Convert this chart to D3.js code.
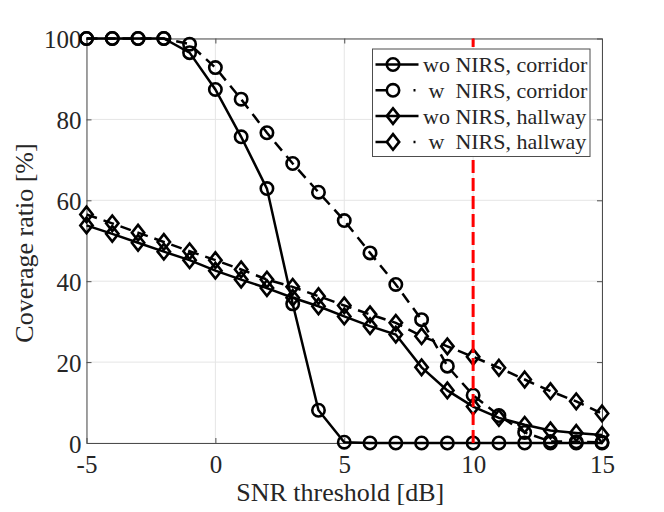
<!DOCTYPE html>
<html>
<head>
<meta charset="utf-8">
<script src="https://cdn.jsdelivr.net/npm/d3@7"></script>
<style>
  body { margin: 0; background: #fff; }
  text { font-family: "Liberation Serif", "Times New Roman", serif; fill: #262626; }
</style>
</head>
<body>
<div id="chart"></div>
<script>
// Data
var snr = [-5, -4, -3, -2, -1, 0, 1, 2, 3, 4, 5, 6, 7, 8, 9, 10, 11, 12, 13, 14, 15];
var woCorridor = [100, 100, 100, 100, 96.5, 87.4, 75.7, 62.9, 34.4, 8.1, 0.2, 0, 0, 0, 0, 0, 0, 0, 0, 0, 0];
var wCorridor = [100, 100, 100, 100, 98.6, 92.8, 85, 76.7, 69.1, 62, 55, 47, 39.2, 30.5, 19, 11.8, 6.8, 2.6, 0.4, 0.3, 0.2];
var woHallway = [53.8, 51.7, 49.5, 47.3, 45.2, 42.6, 40.4, 38.3, 35.9, 33.8, 31.3, 28.9, 26.8, 18.7, 13, 9, 6.2, 4.5, 3.1, 2.5, 2];
var wHallway = [56.5, 54.3, 52, 49.7, 47.4, 45.2, 42.9, 40.4, 38.6, 36.3, 34, 31.8, 29.7, 26.4, 23.9, 21.3, 18.6, 15.7, 12.8, 10.3, 7.3];
var xTicks = [-5, 0, 5, 10, 15];
var yTicks = [0, 20, 40, 60, 80, 100];
var thresholdX = 10;
var legendLabels = ["wo NIRS, corridor", " w  NIRS, corridor", "wo NIRS, hallway", " w  NIRS, hallway"];

var series = [
  { name: legendLabels[0], values: woCorridor, marker: "circle", dashed: false },
  { name: legendLabels[1], values: wCorridor, marker: "circle", dashed: true },
  { name: legendLabels[2], values: woHallway, marker: "diamond", dashed: false },
  { name: legendLabels[3], values: wHallway, marker: "diamond", dashed: true }
];

// Sizes and margins
var W = 664, H = 512;
var margin = { top: 38.5, right: 62, bottom: 69, left: 86.5 },
    width = W - margin.left - margin.right,
    height = H - margin.top - margin.bottom;

var svg = d3.select("#chart").append("svg")
    .attr("width", W)
    .attr("height", H)
    .append("g")
    .attr("transform", "translate(" + margin.left + "," + margin.top + ")");

var x = d3.scaleLinear().domain([-5, 15]).range([0, width]);
var y = d3.scaleLinear().domain([0, 100]).range([height, 0]);

// grid
svg.append("g").selectAll("line").data(xTicks).enter().append("line")
    .attr("x1", function (d) { return x(d); }).attr("x2", function (d) { return x(d); })
    .attr("y1", 0).attr("y2", height)
    .attr("stroke", "#e5e5e5").attr("stroke-width", 1);
svg.append("g").selectAll("line").data(yTicks).enter().append("line")
    .attr("y1", function (d) { return y(d); }).attr("y2", function (d) { return y(d); })
    .attr("x1", 0).attr("x2", width)
    .attr("stroke", "#e5e5e5").attr("stroke-width", 1);

// axes (ticks pointing inward, box on)
function styleAxis(g) {
  g.selectAll(".domain").attr("stroke", "#4d4d4d");
  g.selectAll(".tick line").attr("stroke", "#4d4d4d");
  g.selectAll("text").style("font-family", "Liberation Serif").style("font-size", "25px").attr("fill", "#262626");
}
var plain = function (d) { return String(d); };
svg.append("g")
    .attr("transform", "translate(0," + height + ")")
    .call(d3.axisBottom(x).tickValues(xTicks).tickFormat(plain).tickSize(-5).tickSizeOuter(0).tickPadding(12))
    .call(styleAxis);
svg.append("g")
    .call(d3.axisLeft(y).tickValues(yTicks).tickFormat(plain).tickSize(-5).tickSizeOuter(0).tickPadding(5))
    .call(styleAxis)
    .selectAll("text").attr("dy", "0.36em");
svg.append("g")
    .call(d3.axisTop(x).tickValues(xTicks).tickSize(-5).tickSizeOuter(0).tickFormat(""))
    .call(styleAxis);
svg.append("g")
    .attr("transform", "translate(" + width + ",0)")
    .call(d3.axisRight(y).tickValues(yTicks).tickSize(-5).tickSizeOuter(0).tickFormat(""))
    .call(styleAxis);

// lines and markers
var line = d3.line()
    .x(function (d, i) { return x(snr[i]); })
    .y(function (d) { return y(d); });

function drawMarker(g, type, cx, cy) {
  if (type === "circle") {
    g.append("circle").attr("cx", cx).attr("cy", cy).attr("r", 6.2)
        .attr("fill", "none").attr("stroke", "#000").attr("stroke-width", 2.6);
  } else {
    g.append("path")
        .attr("d", "M" + cx + "," + (cy - 7.8) + "L" + (cx + 6.2) + "," + cy + "L" + cx + "," + (cy + 7.8) + "L" + (cx - 6.2) + "," + cy + "Z")
        .attr("fill", "none").attr("stroke", "#000").attr("stroke-width", 2.6);
  }
}

series.forEach(function (s) {
  var g = svg.append("g");
  g.append("path")
      .datum(s.values)
      .attr("d", line)
      .attr("fill", "none")
      .attr("stroke", "#000")
      .attr("stroke-width", 2.5)
      .attr("stroke-dasharray", s.dashed ? "11,7" : null);
  s.values.forEach(function (v, i) {
    drawMarker(g, s.marker, x(snr[i]), y(v));
  });
});

// threshold line
svg.append("line")
    .attr("x1", x(thresholdX)).attr("x2", x(thresholdX))
    .attr("y1", y(0)).attr("y2", y(100))
    .attr("stroke", "#ff0000").attr("stroke-width", 3)
    .attr("stroke-dasharray", "13,5");

// axis labels
svg.append("text")
    .attr("x", x(5) - 4).attr("y", height + 58)
    .attr("text-anchor", "middle")
    .style("font-size", "26px")
    .text("SNR threshold [dB]");
svg.append("text")
    .attr("transform", "translate(" + (33 - margin.left) + "," + (243 - margin.top) + ") rotate(-90)")
    .attr("text-anchor", "middle")
    .style("font-size", "26px")
    .text("Coverage ratio [%]");

// legend
var lg = svg.append("g").attr("transform", "translate(" + (372.5 - margin.left) + "," + (49 - margin.top) + ")");
lg.append("rect").attr("width", 217.5).attr("height", 107.5)
    .attr("fill", "#fff").attr("stroke", "#4d4d4d").attr("stroke-width", 1);
series.forEach(function (s, i) {
  var ry = 15.5 + i * 25.8;
  var row = lg.append("g");
  row.append("line").attr("x1", 3).attr("x2", 46).attr("y1", ry).attr("y2", ry)
      .attr("stroke", "#000").attr("stroke-width", 2.5)
      .attr("stroke-dasharray", s.dashed ? "11,27,2,10" : null);
  drawMarker(row, s.marker, 20.5, ry);
  row.append("text").attr("x", 50.5).attr("y", ry + 7.5)
      .style("font-size", "22px")
      .style("white-space", "pre")
      .attr("xml:space", "preserve")
      .text(s.name);
});
</script>
</body>
</html>
